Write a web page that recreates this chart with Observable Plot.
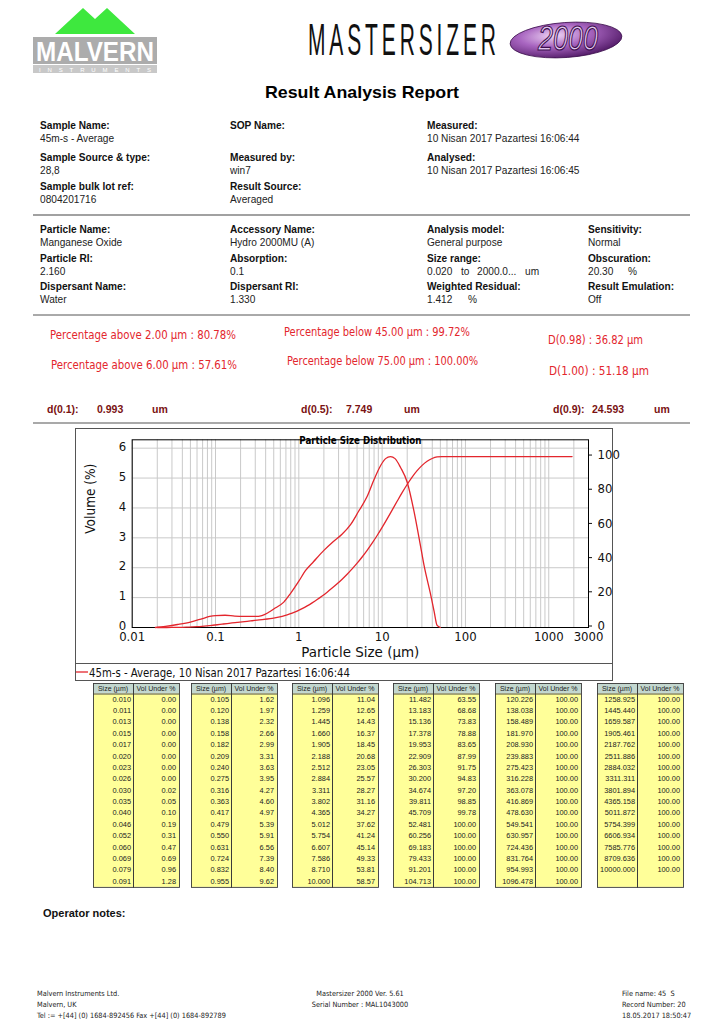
<!DOCTYPE html>
<html><head><meta charset="utf-8">
<script src="https://cdn.jsdelivr.net/npm/d3@7"></script>
<script src="https://cdn.jsdelivr.net/npm/@observablehq/plot@0.6"></script>
<style>
body{margin:0;background:#fff;}
#page{position:relative;width:724px;height:1024px;overflow:hidden;background:#fff;}
#page svg.bg{position:absolute;left:0;top:0;}
#chart{position:absolute;left:60px;top:428px;}
#chart svg{overflow:visible;}
text{white-space:pre;}
</style></head><body><div id="page"><div id="chart"></div></div>
<script>
// ---------- DATA ----------
// Result table: size classes (µm) and cumulative volume under (%)
const tableSizes = [
 0.010,0.011,0.013,0.015,0.017,0.020,0.023,0.026,0.030,0.035,0.040,0.046,0.052,0.060,0.069,0.079,0.091,
 0.105,0.120,0.138,0.158,0.182,0.209,0.240,0.275,0.316,0.363,0.417,0.479,0.550,0.631,0.724,0.832,0.955,
 1.096,1.259,1.445,1.660,1.905,2.188,2.512,2.884,3.311,3.802,4.365,5.012,5.754,6.607,7.586,8.710,10.000,
 11.482,13.183,15.136,17.378,19.953,22.909,26.303,30.200,34.674,39.811,45.709,52.481,60.256,69.183,79.433,91.201,104.713,
 120.226,138.038,158.489,181.970,208.930,239.883,275.423,316.228,363.078,416.869,478.630,549.541,630.957,724.436,831.764,954.993,1096.478,
 1258.925,1445.440,1659.587,1905.461,2187.762,2511.886,2884.032,3311.311,3801.894,4365.158,5011.872,5754.399,6606.934,7585.776,8709.636,10000.000];
const tableVolUnder = [
 0.00,0.00,0.00,0.00,0.00,0.00,0.00,0.00,0.02,0.05,0.10,0.19,0.31,0.47,0.69,0.96,1.28,
 1.62,1.97,2.32,2.66,2.99,3.31,3.63,3.95,4.27,4.60,4.97,5.39,5.91,6.56,7.39,8.40,9.62,
 11.04,12.65,14.43,16.37,18.45,20.68,23.05,25.57,28.27,31.16,34.27,37.62,41.24,45.14,49.33,53.81,58.57,
 63.55,68.68,73.83,78.88,83.65,87.99,91.75,94.83,97.20,98.85,99.78,100.00,100.00,100.00,100.00,100.00,100.00,
 100.00,100.00,100.00,100.00,100.00,100.00,100.00,100.00,100.00,100.00,100.00,100.00,100.00,100.00,100.00,100.00,100.00,
 100.00,100.00,100.00,100.00,100.00,100.00,100.00,100.00,100.00,100.00,100.00,100.00,100.00,100.00,100.00,100.00];
// Volume (%) density curve
const densitySize = [0.019,0.025,0.035,0.05,0.07,0.085,0.1,0.13,0.17,0.22,0.3,0.36,0.43,0.52,0.66,0.8,1.0,1.2,1.5,2.0,2.6,3.3,4.2,5.2,6.6,8.0,9.6,11.0,12.6,14.3,16.6,20,24,28.8,32,38,42,45.7,50];
const densityVol  = [0,0.04,0.10,0.18,0.30,0.37,0.40,0.41,0.38,0.37,0.37,0.40,0.50,0.65,0.85,1.15,1.55,1.90,2.20,2.58,2.88,3.12,3.45,3.88,4.38,4.95,5.42,5.65,5.72,5.65,5.36,4.86,3.92,2.75,2.05,1.13,0.55,0.07,0];
const cumRange = [0.02, 2000];
const xTicks = [0.01,0.1,1,10,100,1000,3000];
const yTicks = [0,1,2,3,4,5,6];
const rightTicks = [0,20,40,60,80,100];
const yMax = 6.28;          // top of the left (Volume %) axis
const rightMax = 109.8;     // top of the right (cumulative %) axis

// ---------- PAGE ----------
const ARIAL = '"Liberation Sans",Arial,sans-serif';
const TAHOMA = '"DejaVu Sans Condensed","DejaVu Sans",sans-serif';
const RED = "#e3262d", DRED = "#7a1212";
const svg = d3.select("#page").insert("svg","#chart").attr("class","bg").attr("width",724).attr("height",1024);
function T(x,y,s,o={}){
  const t = (o.parent||svg).append("text").attr("x",x).attr("y",y).attr("dominant-baseline","central")
    .attr("font-family",o.ff||ARIAL).attr("font-size",o.fs||11).attr("fill",o.fill||"#111").text(s);
  if(o.bold) t.attr("font-weight","bold");
  if(o.anchor) t.attr("text-anchor",o.anchor);
  if(o.len) t.attr("textLength",o.len).attr("lengthAdjust",o.adj||"spacingAndGlyphs");
  if(o.squeeze){ const w = t.node().getComputedTextLength(); t.attr("textLength",w*o.squeeze).attr("lengthAdjust","spacingAndGlyphs"); }
  if(o.italic) t.attr("font-style","italic");
  return t;
}
function L(x1,y1,x2,y2,c="#555",w=1){svg.append("line").attr("x1",x1).attr("y1",y1).attr("x2",x2).attr("y2",y2).attr("stroke",c).attr("stroke-width",w);}

// Malvern logo
svg.append("polygon").attr("points","55,34 83,8 95,19 107,8 135,34").attr("fill","#3ee83e");
svg.append("rect").attr("x",33).attr("y",37).attr("width",124).attr("height",27).attr("fill","#acacac");
T(95,51.5,"MALVERN",{fs:27,bold:true,fill:"#fff",anchor:"middle",len:118});
svg.append("rect").attr("x",33).attr("y",65).attr("width",124).attr("height",8).attr("fill","#c8c8c8");
T(95,69.5,"INSTRUMENTS",{fs:6,fill:"#fff",anchor:"middle",len:112,adj:"spacing"});

// MASTERSIZER wordmark
const ms = svg.append("g").attr("transform","translate(308,55) scale(1,2.1)");
ms.append("text").attr("x",0).attr("y",0).attr("font-family",ARIAL)
  .attr("font-size",21).attr("fill","#111").attr("textLength",188).attr("lengthAdjust","spacing").text("MASTERSIZER");
const defs = svg.append("defs");
const rg = defs.append("radialGradient").attr("id","pg").attr("cx","40%").attr("cy","35%").attr("r","70%");
rg.append("stop").attr("offset","0%").attr("stop-color","#efd6f5");
rg.append("stop").attr("offset","45%").attr("stop-color","#a865c0");
rg.append("stop").attr("offset","100%").attr("stop-color","#4e1763");
svg.append("ellipse").attr("cx",566).attr("cy",40).attr("rx",56).attr("ry",17.5).attr("transform","rotate(-4 566 40)")
  .attr("fill","url(#pg)").attr("stroke","#3b0e4d").attr("stroke-width",0.8);
const tw = svg.append("g").attr("transform","translate(568,50) scale(1,1.45)");
tw.append("text").attr("x",0).attr("y",0).attr("text-anchor","middle").attr("font-family",ARIAL)
  .attr("font-size",24).attr("font-style","italic").attr("fill","#e2c4ee").attr("stroke","#3b0e4d").attr("stroke-width",0.8)
  .attr("textLength",60).attr("lengthAdjust","spacingAndGlyphs").text("2000");

// Report title
T(362,92,"Result Analysis Report",{fs:17,bold:true,anchor:"middle",len:194,fill:"#000"});

// Info block
const SQ = 0.88;
const infoTop = [
  [40,  [["Sample Name:","45m-s - Average"],["Sample Source & type:","28,8"],["Sample bulk lot ref:","0804201716"]]],
  [230, [["SOP Name:",""],["Measured by:","win7"],["Result Source:","Averaged"]]],
  [427, [["Measured:","10 Nisan 2017 Pazartesi 16:06:44"],["Analysed:","10 Nisan 2017 Pazartesi 16:06:45"]]]
];
const rowsTop = [125,157,186];
infoTop.forEach(([x,items])=>items.forEach(([lab,val],i)=>{
  T(x,rowsTop[i],lab,{bold:true,fs:11.5,squeeze:SQ});
  if(val) T(x,rowsTop[i]+13,val,{fs:11.5,fill:"#222",squeeze:SQ});
}));
L(33,215,690,215,"#444",1.2);
const infoBot = [
  [40,  [["Particle Name:","Manganese Oxide"],["Particle RI:","2.160"],["Dispersant Name:","Water"]]],
  [230, [["Accessory Name:","Hydro 2000MU (A)"],["Absorption:","0.1"],["Dispersant RI:","1.330"]]],
  [427, [["Analysis model:","General purpose"],["Size range:",""],["Weighted Residual:","1.412"]]],
  [588, [["Sensitivity:","Normal"],["Obscuration:","20.30"],["Result Emulation:","Off"]]]
];
const rowsBot = [229,258,286];
infoBot.forEach(([x,items])=>items.forEach(([lab,val],i)=>{
  T(x,rowsBot[i],lab,{bold:true,fs:11.5,squeeze:SQ});
  if(val) T(x,rowsBot[i]+13,val,{fs:11.5,fill:"#222",squeeze:SQ});
}));
T(427,271,"0.020",{fs:11.5,fill:"#222",squeeze:SQ}); T(461,271,"to",{fs:11.5,fill:"#222",squeeze:SQ});
T(477,271,"2000.0...",{fs:11.5,fill:"#222",squeeze:SQ}); T(525,271,"um",{fs:11.5,fill:"#222",squeeze:SQ});
T(628,271,"%",{fs:11.5,fill:"#222",squeeze:SQ}); T(468,299,"%",{fs:11.5,fill:"#222",squeeze:SQ});
L(33,315,690,315,"#555",1);

// Red result statistics
const redTxt = [
  [50,334,"Percentage above 2.00 µm : 80.78%",186],
  [51,364,"Percentage above 6.00 µm : 57.61%",186],
  [284,331,"Percentage below 45.00 µm : 99.72%",186],
  [287,360,"Percentage below 75.00 µm : 100.00%",191],
  [548,339,"D(0.98) : 36.82 µm",95],
  [549,370,"D(1.00) : 51.18 µm",100]
];
redTxt.forEach(([x,y,s,l])=>T(x,y,s,{ff:TAHOMA,fs:12.5,fill:RED,len:l}));
// d-values
[[47,"d(0.1):"],[97,"0.993"],[152,"um"],[301,"d(0.5):"],[346,"7.749"],[404,"um"],[553,"d(0.9):"],[592,"24.593"],[654,"um"]]
  .forEach(([x,s])=>T(x,409,s,{fs:10.5,bold:true,fill:DRED}));
L(33,423,690,423,"#555",1.2);

// chart box + legend
svg.append("rect").attr("x",75.5).attr("y",428.5).attr("width",537).attr("height",252).attr("fill","none").attr("stroke","#555");
L(75.5,663.5,612.5,663.5,"#555",1);
L(76,672,88,672,RED,1.3);
T(89,672,"45m-s - Average, 10 Nisan 2017 Pazartesi 16:06:44",{ff:TAHOMA,fs:12.5,fill:"#111",len:261});

// Table
const groupX = [93,191,292,393,495,597];
const sizeW = 40, volW = 46, headY = 683, headH = 10.5, rowH = 11.375, nRows = 17;
groupX.forEach((gx,g)=>{
  const bodyY = headY+headH, bodyH = rowH*nRows;
  svg.append("rect").attr("x",gx).attr("y",headY).attr("width",sizeW+volW).attr("height",headH).attr("fill","#c3d7cf");
  svg.append("rect").attr("x",gx).attr("y",bodyY).attr("width",sizeW+volW).attr("height",bodyH).attr("fill","#ffff99");
  [[gx,sizeW],[gx+sizeW,volW]].forEach(([x,w])=>{
    svg.append("rect").attr("x",x+0.5).attr("y",headY+0.5).attr("width",w).attr("height",headH+bodyH).attr("fill","none").attr("stroke","#3a3a3a").attr("stroke-width",0.9);
  });
  L(gx,bodyY+0.5,gx+sizeW+volW,bodyY+0.5,"#3a3a3a",0.9);
  T(gx+sizeW/2,headY+headH/2+0.5,"Size (µm)",{fs:7,anchor:"middle",fill:"#222"});
  T(gx+sizeW+volW/2,headY+headH/2+0.5,"Vol Under %",{fs:7,anchor:"middle",fill:"#222"});
  for(let r=0;r<nRows;r++){
    const i = g*nRows + r;
    if(i>=tableSizes.length) break;
    const cy = bodyY + rowH*(r+0.5);
    T(gx+sizeW-2,cy,tableSizes[i].toFixed(3),{fs:7.4,anchor:"end",fill:"#222"});
    T(gx+sizeW+volW-3,cy,tableVolUnder[i].toFixed(2),{fs:7.4,anchor:"end",fill:"#222"});
  }
});

// Operator notes + footer
T(43,913,"Operator notes:",{fs:11,bold:true});
const FF = '"DejaVu Sans Condensed","DejaVu Sans",sans-serif';
[["Malvern Instruments Ltd.",993],["Malvern, UK",1004],["Tel := +[44] (0) 1684-892456 Fax +[44] (0) 1684-892789",1015]]
  .forEach(([s,y])=>T(37,y,s,{ff:FF,fs:7.3,fill:"#222"}));
[["Mastersizer 2000 Ver. 5.61",993],["Serial Number : MAL1043000",1004]].forEach(([s,y])=>T(360,y,s,{ff:FF,fs:7.3,fill:"#222",anchor:"middle"}));
[["File name: 45  S",993],["Record Number: 20",1004],["18.05.2017 18:50:47",1015]].forEach(([s,y])=>T(622,y,s,{ff:FF,fs:7.3,fill:"#222"}));

// ---------- CHART ----------
const K = yMax/rightMax;   // right-axis units -> left-axis units
const density = densitySize.map((s,i)=>({size:s, vol:densityVol[i]}));
const cumulative = tableSizes.map((s,i)=>({size:s, cum:tableVolUnder[i]})).filter(d=>d.size>=cumRange[0] && d.size<=cumRange[1]);
const xGrid = [];
for(let e=-2;e<=3;e++) for(let m=1;m<=9;m++){const v=+(m*Math.pow(10,e)).toPrecision(3); if(v<=xTicks[xTicks.length-1]) xGrid.push(v);}

const chart = Plot.plot({
  width: 580, height: 234,
  marginLeft: 71.7, marginRight: 52, marginTop: 11.3, marginBottom: 35,
  style: {fontFamily: TAHOMA, fontSize: "13px", background: "transparent", color: "#111", overflow: "visible"},
  x: {type: "log", domain: [xTicks[0], xTicks[xTicks.length-1]], axis: null},
  y: {domain: [0, yMax], axis: null},
  marks: [
    Plot.gridX(xGrid, {stroke: "#c9c9c9", strokeOpacity: 1}),
    Plot.gridY(yTicks, {stroke: "#c9c9c9", strokeOpacity: 1}),
    Plot.frame({stroke: "#000"}),
    Plot.line(density, {x: "size", y: "vol", stroke: RED, strokeWidth: 1.3, curve: "monotone-x"}),
    Plot.line(cumulative, {x: "size", y: d => d.cum*K, stroke: RED, strokeWidth: 1.3, curve: "monotone-x"}),
    Plot.text(xTicks, {x: d => d, frameAnchor: "bottom", dy: 13, text: d => String(d), fontSize: 13, fill: "#111"}),
    Plot.axisY(yTicks, {anchor: "left", tickSize: 0, tickPadding: 6, dy: -1.5, fontSize: 13, label: null}),
    Plot.axisY(rightTicks.map(v => v*K), {anchor: "right", tickSize: 3, tickPadding: 6, dy: -1.5, tickFormat: d => Math.round(d/K), fontSize: 13, label: null}),
    Plot.text(["Particle Size Distribution"], {frameAnchor: "top", dy: -3.5, fontWeight: "bold", fontSize: 10.5, fill: "#000"}),
    Plot.text(["Volume (%)"], {frameAnchor: "left", dx: -42, rotate: -90, fontSize: 13.5, fill: "#111"}),
    Plot.text(["Particle Size (µm)"], {frameAnchor: "bottom", dy: 29, fontSize: 13.5, fill: "#111"})
  ]
});
document.getElementById("chart").appendChild(chart);
d3.select(chart).selectAll("text").each(function(){
  const s = this.textContent;
  const lens = {"Particle Size Distribution":122, "Particle Size (µm)":118, "Volume (%)":70};
  if(lens[s]) d3.select(this).attr("textLength",lens[s]).attr("lengthAdjust","spacingAndGlyphs");
});
</script></body></html>
